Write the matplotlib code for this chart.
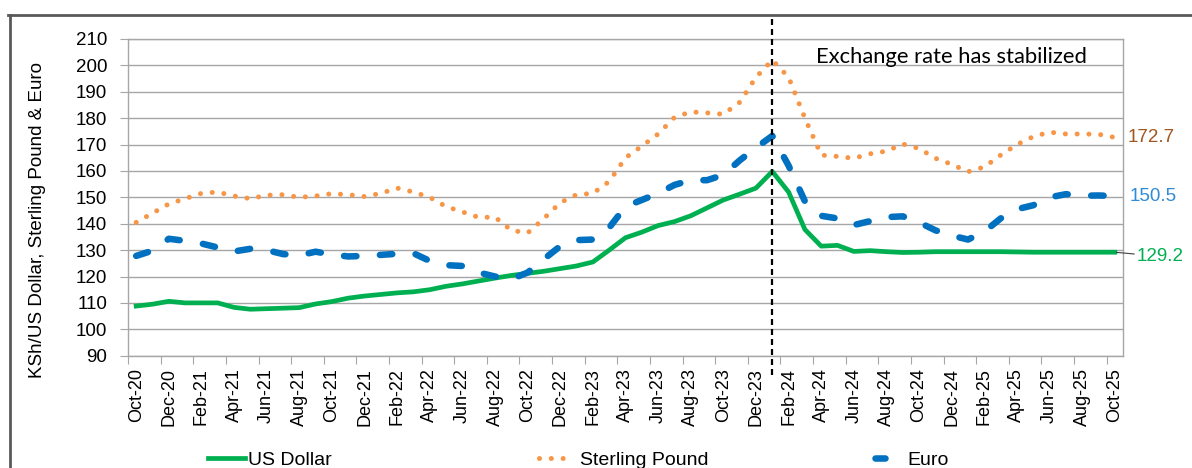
import numpy as np
import pandas as pd
import matplotlib
matplotlib.use('Agg')
import matplotlib.pyplot as plt
from matplotlib.lines import Line2D
from matplotlib.legend import Legend

# monthly KSh exchange rates, Oct-20 .. Oct-25
months = pd.date_range('2020-10-01', periods=61, freq='MS').strftime('%b-%y').tolist()

usd = [108.8, 109.5, 110.6, 110.0, 110.0, 110.0, 108.3, 107.6, 107.8, 108.0,
       108.2, 109.6, 110.5, 111.8, 112.6, 113.2, 113.8, 114.2, 115.0, 116.3,
       117.2, 118.3, 119.4, 120.4, 121.2, 122.0, 123.0, 124.0, 125.5, 130.0,
       134.7, 136.8, 139.3, 140.8, 143.0, 146.0, 149.0, 151.2, 153.5, 159.8,
       152.0, 137.8, 131.5, 131.8, 129.5, 129.8, 129.4, 129.1, 129.2, 129.4,
       129.4, 129.4, 129.4, 129.4, 129.3, 129.2, 129.2, 129.2, 129.2, 129.2,
       129.2]

gbp = [140.5, 144.0, 147.5, 149.5, 151.5, 152.0, 150.5, 149.5, 150.8, 151.0,
       150.0, 150.5, 151.4, 151.0, 150.3, 151.5, 153.5, 152.0, 150.0, 146.5,
       144.5, 142.4, 142.5, 137.5, 136.5, 142.0, 148.0, 151.0, 151.5, 156.0,
       165.0, 169.4, 174.0, 180.3, 182.4, 182.0, 181.5, 186.0, 195.5, 202.0,
       195.5, 180.0, 166.0, 165.5, 164.8, 166.5, 167.5, 170.2, 168.5, 164.8,
       162.5, 159.7, 161.5, 166.0, 170.0, 173.0, 174.7, 174.0, 174.0, 173.9,
       172.7]

eur = [127.8, 129.8, 134.3, 133.5, 132.5, 131.0, 129.5, 130.5, 130.0, 128.5,
       128.0, 129.4, 128.3, 127.6, 127.8, 128.2, 128.6, 128.8, 125.9, 124.3,
       124.0, 121.5, 120.0, 119.0, 121.5, 126.6, 131.5, 133.8, 134.0, 138.5,
       146.5, 149.0, 151.5, 154.7, 156.5, 156.5, 158.5, 164.0, 168.8, 173.3,
       162.0, 148.5, 143.0, 142.0, 139.5, 141.0, 142.5, 142.8, 140.5, 137.5,
       135.5, 134.0, 137.0, 142.0, 145.5, 147.0, 150.0, 151.2, 150.6, 150.7,
       150.5]

series_names = ['US Dollar', 'Sterling Pound', 'Euro']
break_month = 'Jan-24'
note = 'Exchange rate has stabilized'

GREEN = '#00B050'
ORANGE = '#F79646'
BLUE = '#0070C0'
GRID = '#A6A6A6'

plt.rcParams['font.family'] = ['Liberation Sans', 'DejaVu Sans']


def main():
    fig = plt.figure(figsize=(11.92, 4.68), dpi=100)
    ax = fig.add_axes([0.1074, 0.2400, 0.8347, 0.6767])
    x = np.arange(len(months))

    l_usd, = ax.plot(x, usd, color=GREEN, lw=3.4, solid_joinstyle='round', zorder=3)
    l_gbp, = ax.plot(x, gbp, color=ORANGE, lw=3.6, linestyle=(0, (0.01, 2.35)),
                     dash_capstyle='round', zorder=3)
    l_eur, = ax.plot(x, eur, color=BLUE, lw=4.7, linestyle=(0, (1.9, 3.6)),
                     dash_capstyle='round', zorder=3)

    ax.set_xlim(-0.5, len(months) - 0.5)
    ax.set_ylim(90, 210)
    ax.set_yticks(np.arange(90, 211, 10))
    ax.grid(axis='y', color=GRID, lw=1)
    ax.set_axisbelow(True)
    for s in ax.spines.values():
        s.set_color(GRID)
        s.set_linewidth(1)

    # ticks between categories, labels centred on categories
    ax.set_xticks(np.arange(-0.5, len(months) - 1, 2))
    ax.set_xticklabels([])
    ax.set_xticks(x[::2], minor=True)
    ax.set_xticklabels(months[::2], minor=True, rotation=90, fontsize=13)
    ax.tick_params(axis='x', which='major', length=6, color=GRID)
    ax.tick_params(axis='x', which='minor', length=0, pad=9)
    ax.tick_params(axis='y', length=6, color=GRID, labelsize=13.5, pad=9)

    fig.text(38 / 1192, 1 - 220 / 468, 'KSh/US Dollar, Sterling Pound & Euro',
             rotation=90, ha='center', va='center', fontsize=13.5)

    # vertical marker at the peak
    xb = months.index(break_month)
    ax.axvline(xb, ymin=-0.061, ymax=1.076, clip_on=False, color='black',
               lw=1.6, linestyle=(0, (2.7, 1.8)), zorder=5)
    ax.text(50, 203, note, ha='center', va='center', fontsize=15.8,
            family=['Lato', 'DejaVu Sans'])

    # end labels
    last = len(months) - 1
    ax.annotate(f'{gbp[-1]:.1f}', xy=(last, gbp[-1]), xytext=(9, 0),
                textcoords='offset points', va='center', ha='left',
                color='#A0561E', fontsize=13.5, annotation_clip=False)
    ax.annotate(f'{eur[-1]:.1f}', xy=(last, eur[-1]), xytext=(11, 0),
                textcoords='offset points', va='center', ha='left',
                color='#2F8BD6', fontsize=13.5, annotation_clip=False)
    ax.annotate(f'{usd[-1]:.1f}', xy=(last, usd[-1]), xytext=(16, -3),
                textcoords='offset points', va='center', ha='left',
                color=GREEN, fontsize=13.5, annotation_clip=False,
                arrowprops=dict(arrowstyle='-', color='#404040', lw=0.8,
                                shrinkA=0, shrinkB=1))

    # legend entries spread along the bottom
    specs = [(l_usd, series_names[0], 208, 1.9, 0.15),
             (l_gbp, series_names[1], 539, 1.26, 0.85),
             (l_eur, series_names[2], 875, 0.5, 1.15)]
    for line, name, px, hl, tp in specs:
        leg = Legend(ax, [line], [name], loc='center left',
                     bbox_to_anchor=(px / 1192, 8 / 468),
                     bbox_transform=fig.transFigure, frameon=False,
                     borderpad=0, borderaxespad=0, handlelength=hl,
                     handletextpad=tp, fontsize=14)
        ax.add_artist(leg)

    # chart border (cut at the picture edge)
    fig.add_artist(Line2D([8 / 1192, 1], [1 - 15 / 468] * 2,
                          transform=fig.transFigure, color='#595959', lw=2))
    fig.add_artist(Line2D([10 / 1192] * 2, [0, 1 - 15 / 468],
                          transform=fig.transFigure, color='#595959', lw=2))

    fig.savefig('out.png', dpi=100)
    plt.close(fig)


if __name__ == '__main__':
    main()
